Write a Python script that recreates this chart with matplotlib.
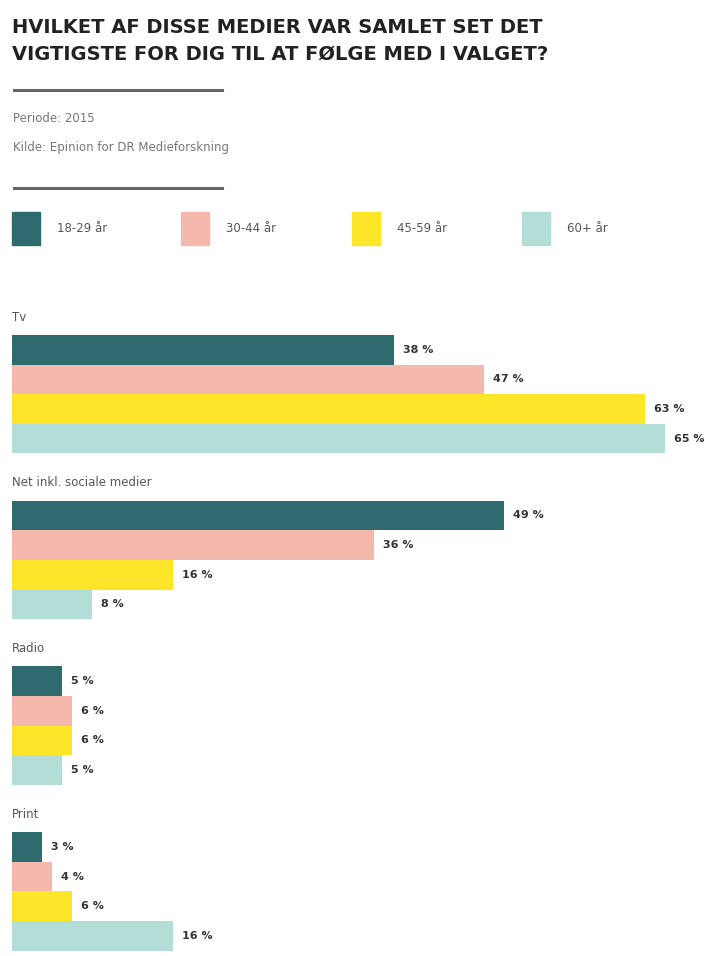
import matplotlib.pyplot as plt
from matplotlib.patches import Rectangle
from matplotlib.lines import Line2D

categories = ["Tv", "Net inkl. sociale medier", "Radio", "Print"]
age_groups = ["18-29 år", "30-44 år", "45-59 år", "60+ år"]
colors = ["#2f6a6e", "#f5b8ad", "#fde52a", "#b3ddd7"]
# values per category, in age group order
values = [
    [38, 47, 63, 65],
    [49, 36, 16, 8],
    [5, 6, 6, 5],
    [3, 4, 6, 16],
]

W, H = 715, 956
fig = plt.figure(figsize=(W / 100, H / 100), dpi=100)

def fx(px):
    return px / W

def fy(py):
    return 1 - py / H

# title
fig.text(fx(12), fy(41), "HVILKET AF DISSE MEDIER VAR SAMLET SET DET\nVIGTIGSTE FOR DIG TIL AT FØLGE MED I VALGET?",
         fontsize=14, fontweight="bold", color="#222222", va="center", ha="left",
         linespacing=1.5)

# rules and meta text
for py in (90, 188):
    fig.add_artist(Line2D([fx(14), fx(222)], [fy(py), fy(py)], color="#666666", lw=2.2))
fig.text(fx(13), fy(118), "Periode: 2015", fontsize=8.5, color="#777777", va="center")
fig.text(fx(13), fy(147), "Kilde: Epinion for DR Medieforskning", fontsize=8.5, color="#777777", va="center")

# legend
legend_x = [12, 181, 352, 522]
for lx, lab, c in zip(legend_x, age_groups, colors):
    fig.add_artist(Rectangle((fx(lx), fy(245)), 28 / W, 33 / H, color=c, transform=fig.transFigure))
    fig.text(fx(lx + 45), fy(228), lab, fontsize=8.5, color="#555555", va="center")

# bars
ax_top, ax_bottom = 300, 956
ax = fig.add_axes([fx(12), fy(ax_bottom), fx(W - 12), (ax_bottom - ax_top) / H])
bar_h = 29.6
group_step = 165.7 / bar_h
first_top = 35 / bar_h
ax.set_xlim(0, (W - 12) / 10.05)
ax.set_ylim((ax_bottom - ax_top) / bar_h, 0)
ax.axis("off")

for g, (cat, vals) in enumerate(zip(categories, values)):
    top = first_top + g * group_step
    ax.text(0, top - 0.6, cat, fontsize=8.5, color="#555555", va="center", ha="left")
    for i, (v, c) in enumerate(zip(vals, colors)):
        y = top + i + 0.5
        ax.barh(y, v, height=1.0, color=c, left=0)
        ax.text(v + 0.9, y, f"{v} %", fontsize=8, fontweight="bold", color="#333333",
                va="center", ha="left")

fig.savefig("out.png", dpi=100)
